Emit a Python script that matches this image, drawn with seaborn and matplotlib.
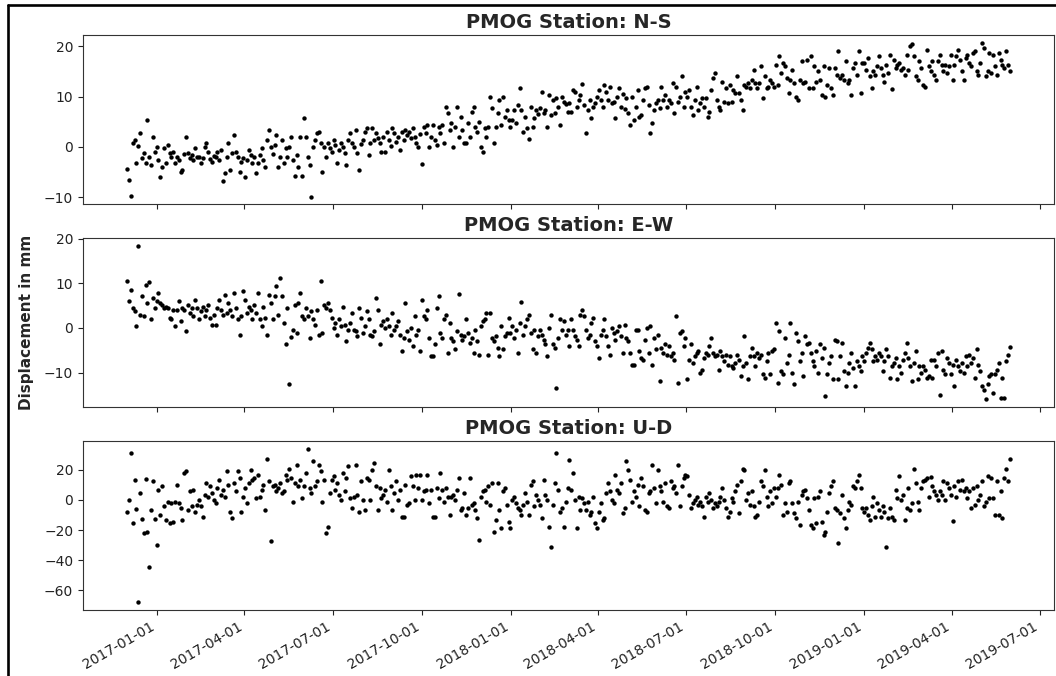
import numpy as np
import pandas as pd
import matplotlib
matplotlib.use("Agg")
import matplotlib.pyplot as plt
import matplotlib.dates as mdates
from matplotlib.lines import Line2D
import seaborn as sns

sns.set_style("ticks")
plt.rcParams["font.family"] = "DejaVu Sans"
plt.rcParams["axes.edgecolor"] = "#333333"

station = "PMOG"
start_date = "2016-12-01"
end_date = "2019-05-31"
components = ["N-S", "E-W", "U-D"]

# daily-ish displacement samples (mm), one row per month, Dec 2016 .. May 2019
ns_mm = [
    -4.5, -6.7, -9.8, 0.8, 1.3, -3.3, 0.2, 2.7, -2.3, -1.3, -3.3, 5.3, -2.0, -3.7, 1.9, -1.0,
    0.0, -2.7, -6.0, -4.0, -0.3, -3.3, 0.3, -1.3, -2.0, -1.0, -3.3, -2.0, -2.7, -5.0, -4.7, -1.5,
    2.0, -1.3, -2.3, -1.7, -2.7, -0.3, -2.0, -2.0, -3.3, -2.3, 0.0, 0.7, -1.0, -2.5, -3.0, -1.8,
    -2.0, -1.0, -2.7, -0.7, -6.9, -5.3, -2.0, 0.7, -4.7, -1.3, 2.3, -1.0, -2.0, -5.0, -3.0, -2.2,
    -6.0, -2.7, -0.7, -1.7, -3.3, -2.0, -5.3, -3.3, -1.7, -0.3, -2.7, -4.0, 1.3, 3.3, 0.0, -1.5,
    0.3, 2.3, -4.0, -2.0, 1.3, -3.3, -0.3, -2.0, 0.0, 2.0, -2.7, -5.8, -1.7, -4.0, 2.0, -5.9,
    5.7, 2.0, -2.0, -3.7, -9.9, 0.0, 1.3, 2.7, 3.0, 0.7, -5.0, 0.0, -2.0, 0.7, -0.3, -1.0,
    1.3, 0.3, -3.3, -0.7, 0.7, 0.0, -1.3, -3.7, 1.3, 2.7, 0.7, 0.0, 3.3, -1.3, -4.7, 0.5,
    1.3, 3.0, 3.7, -1.7, 0.7, 3.7, 1.3, 2.7, 1.7, 0.7, -1.0, 2.0, -1.0, 3.0, 1.3, 0.2,
    3.7, 2.7, 1.0, 2.0, -0.7, 3.0, 1.3, 3.3, 2.3, 3.0, 1.7, 3.7, 2.0, 0.7, 0.0, 2.5,
    -3.5, 4.0, 2.7, 4.3, 0.0, 2.0, 4.3, 1.3, 0.3, 4.0, 2.7, 4.3, 0.7, 8.0, 6.7, 3.3,
    4.7, 0.0, 4.0, 7.9, 2.0, 6.0, 3.3, 0.7, 0.7, 4.7, 2.0, 7.0, 8.0, 4.0, 3.0, 5.0,
    0.0, -1.0, 3.7, 2.0, 4.0, 10.0, 7.7, 0.7, 4.0, 6.7, 9.3, 4.3, 10.0, 6.0, 7.3, 5.3,
    4.0, 5.3, 7.3, 4.7, 8.3, 11.8, 7.3, 3.0, 6.0, 3.7, 1.5, 8.0, 4.0, 5.7, 7.3, 6.5,
    7.7, 11.0, 6.7, 7.3, 3.9, 10.3, 6.3, 9.3, 6.7, 9.7, 8.0, 4.3, 10.0, 9.0, 8.5, 7.0,
    8.7, 7.0, 11.3, 11.0, 8.0, 9.3, 10.3, 12.5, 8.3, 2.7, 7.3, 9.3, 5.7, 8.0, 8.7, 10.0,
    11.3, 9.3, 8.0, 12.3, 11.0, 9.3, 12.0, 8.7, 9.0, 5.7, 10.0, 11.7, 8.0, 10.5, 7.5, 9.8,
    6.7, 4.3, 10.0, 5.3, 8.0, 11.3, 6.0, 6.3, 9.3, 11.7, 12.0, 8.3, 2.7, 4.7, 7.3, 8.8,
    9.3, 7.7, 12.0, 9.3, 10.3, 8.0, 9.3, 8.7, 12.7, 6.7, 12.0, 9.0, 10.0, 14.0, 8.0, 11.0,
    10.0, 11.3, 8.0, 6.3, 9.3, 12.0, 7.3, 8.7, 9.7, 8.0, 9.7, 6.0, 7.0, 11.3, 13.7, 14.7,
    9.3, 8.0, 7.3, 13.0, 9.0, 11.7, 8.7, 12.3, 9.0, 11.3, 10.7, 14.0, 10.7, 9.3, 7.3, 12.3,
    12.0, 12.7, 11.7, 13.3, 15.3, 12.7, 11.7, 12.7, 16.0, 9.7, 14.0, 11.7, 12.0, 13.3, 12.7, 12.0,
    16.3, 12.3, 18.0, 14.7, 16.7, 16.0, 13.7, 10.7, 13.3, 15.3, 12.7, 10.0, 9.3, 13.3, 17.0, 12.7,
    13.0, 17.3, 11.7, 18.0, 11.7, 16.0, 13.0, 15.0, 13.3, 10.3, 16.0, 10.0, 12.3, 15.7, 11.7, 10.3,
    15.7, 14.3, 19.0, 13.7, 14.3, 13.3, 17.0, 12.7, 13.3, 10.3, 15.7, 16.7, 14.3, 19.0, 10.7, 16.7,
    16.7, 15.3, 17.7, 14.0, 11.7, 15.0, 14.3, 16.0, 18.0, 15.7, 14.3, 13.0, 16.3, 14.7, 18.3, 11.5,
    17.3, 15.7, 16.3, 16.7, 15.3, 15.7, 14.3, 18.3, 15.3, 20.0, 20.5, 18.0, 14.0, 13.3, 17.0, 15.7,
    12.3, 12.0, 19.3, 16.0, 15.0, 17.0, 14.3, 13.3, 17.0, 18.3, 16.3, 15.0, 16.3, 14.7, 16.0, 18.3,
    13.3, 16.3, 18.0, 19.3, 17.3, 15.0, 13.3, 17.7, 18.3, 16.7, 16.0, 18.7, 19.0, 15.0, 14.3, 16.7,
    20.7, 19.7, 14.0, 15.0, 18.7, 14.7, 18.3, 16.0, 14.3, 18.7, 17.3, 16.3, 15.7, 19.0, 16.3, 15.0,
]

ew_mm = [
    10.6, 6.0, 8.6, 4.5, 3.7, 0.5, 18.4, 3.0, 7.1, 2.6, 9.7, 5.6, 10.2, 1.9, 6.8, 4.5,
    6.0, 7.8, 5.6, 5.2, 4.5, 4.8, 4.5, 2.2, 1.9, 4.1, 0.5, 4.1, 6.0, 1.5, 4.5, 4.1,
    -0.7, 5.2, 3.3, 4.5, 2.6, 6.3, 4.5, 1.9, 3.7, 4.8, 2.6, 4.1, 5.2, 2.2, 0.7, 3.0,
    0.7, 4.5, 6.3, 4.1, 3.0, 7.4, 3.3, 5.6, 4.1, 2.6, 7.8, 4.5, 1.9, -1.5, 2.6, 8.2,
    6.3, 3.3, 4.8, 4.1, 1.9, 5.2, 3.3, 7.8, 1.9, 0.4, 4.8, 2.2, -1.5, 7.4, 5.6, 1.9,
    7.1, 9.3, 3.0, 11.2, 7.1, 1.1, -3.5, 4.5, -12.5, -2.0, -0.4, 5.2, -1.1, 5.6, 7.8, 2.6,
    1.9, 4.5, 2.6, -2.2, 3.7, 1.9, 0.7, 4.1, -1.5, 10.4, -1.1, 5.2, 4.5, 5.6, 4.1, 2.2,
    0.0, 1.1, -1.5, 1.9, 0.4, 4.8, 0.7, -3.0, -0.4, 1.1, 3.3, -0.4, -0.7, -1.9, 4.5, 2.2,
    -1.1, 0.4, 3.7, 1.9, -1.5, -1.9, -0.7, 6.7, 4.1, -3.7, 0.7, 1.5, 0.0, 1.9, 0.4, -1.5,
    3.3, -0.4, 0.4, 1.5, -1.5, -5.2, -2.2, 5.6, -0.7, -2.6, 0.0, -4.1, 2.6, -1.5, -0.4, -5.2,
    6.3, 2.6, 1.9, 4.1, -2.2, -6.3, -6.3, -3.7, 4.5, 7.1, -1.1, -2.2, 1.9, 3.0, -5.6, 1.1,
    -2.2, -3.0, -4.8, -0.7, 7.7, -1.5, -2.6, -1.9, 2.0, -1.1, -3.3, -2.2, -5.6, -0.4, -3.0, -6.0,
    0.4, 1.5, 1.9, 3.3, -6.0, 3.3, -2.2, -3.0, -1.9, -4.5, -6.3, 0.4, -4.8, -1.9, -1.1, 2.2,
    -1.1, 0.4, -2.2, -0.4, -5.6, 1.1, 5.7, -1.5, 0.4, 1.9, 3.0, -1.1, -4.8, -0.4, -5.6, -1.9,
    -0.4, -1.5, -2.6, -3.7, -6.3, 0.0, 3.0, -3.7, -4.5, -13.4, -2.2, 1.9, -0.4, 1.5, -1.5, -0.4,
    -4.1, 1.9, -0.4, -1.9, -2.6, -4.1, 3.0, 4.1, 2.6, -0.4, -2.2, -1.5, 1.1, 2.2, -3.0, -4.1,
    -6.7, -1.5, -0.4, 1.9, -1.9, -4.1, -6.0, 0.0, -1.1, -2.6, -0.7, 0.4, -1.9, -5.6, 0.7, -2.2,
    -3.0, -5.6, -8.2, -8.2, -0.4, -0.4, -5.2, -6.7, -7.1, -2.6, 0.0, -5.6, 0.4, -8.2, -2.2, -4.8,
    -1.5, -11.9, -4.5, -5.6, -3.7, -6.0, -4.1, -6.3, -5.6, -7.1, 2.6, -12.3, -1.1, -0.7, -4.1, -2.2,
    -11.5, -7.1, -3.7, -7.8, -6.3, -5.6, -5.2, -10.0, -9.3, -6.7, -5.6, -6.0, -4.1, -2.2, -5.6, -6.3,
    -6.0, -9.3, -5.2, -6.3, -7.4, -6.0, -8.2, -6.3, -8.6, -8.9, -7.8, -6.0, -7.1, -10.8, -8.6, -1.9,
    -7.8, -11.5, -6.3, -4.5, -6.3, -8.6, -5.6, -6.7, -6.0, -10.4, -11.2, -7.4, -5.6, -10.4, -5.2, -4.8,
    1.0, -12.3, -0.7, -9.7, -10.4, -2.2, -7.8, -6.0, 1.1, -10.0, -12.6, -1.1, -3.0, -7.4, -5.6, -10.8,
    -1.9, -3.7, -3.3, -5.6, -7.4, -8.6, -5.2, -10.0, -3.7, -6.7, -4.5, -15.3, -10.4, -7.8, -6.3, -11.5,
    -2.6, -3.0, -11.5, -6.3, -3.3, -9.7, -13.0, -10.0, -7.8, -5.6, -8.9, -13.0, -7.4, -8.6, -9.7, -6.3,
    -7.4, -5.6, -4.5, -3.3, -4.8, -7.4, -6.3, -7.1, -5.6, -6.3, -9.7, -7.4, -4.8, -6.3, -11.2, -8.6,
    -7.8, -6.7, -11.5, -8.6, -10.0, -7.1, -5.6, -3.3, -6.7, -8.6, -11.9, -7.8, -5.2, -11.5, -8.6, -10.0,
    -8.6, -9.3, -11.2, -10.8, -7.1, -11.2, -7.1, -8.6, -5.6, -14.9, -5.2, -9.3, -10.4, -6.7, -7.8, -10.4,
    -8.2, -13.0, -7.1, -8.6, -9.7, -7.8, -10.0, -6.3, -8.6, -6.0, -7.8, -6.7, -11.2, -4.8, -8.2, -9.7,
    -13.0, -13.8, -16.0, -12.6, -10.8, -10.4, -14.5, -10.4, -9.3, -7.8, -15.6, -11.2, -15.6, -7.4, -6.0, -4.3,
]

ud_mm = [
    -7.8, -0.4, 31.1, -15.6, 12.9, -6.2, -68.0, 4.4, -12.9, -22.2, 13.8, -21.1, -44.4, -6.7, 12.2, -12.9,
    -30.0, 6.7, -10.0, 8.9, -4.4, -13.3, -1.1, -15.6, -2.2, -14.4, -1.1, 10.0, -2.2, -5.6, -13.3, 17.8,
    18.9, -6.7, 5.6, -4.4, 6.7, -7.8, -3.3, 0.0, -4.4, -11.1, 3.3, 11.1, 2.2, 8.9, 4.4, 0.0,
    -2.2, 7.8, 13.3, 3.3, 6.7, 2.2, 18.9, 10.0, -7.8, -12.2, 11.1, 5.6, 18.9, 14.4, -7.8, 2.2,
    7.8, -2.2, 11.1, 19.6, 13.3, 14.4, 1.1, 16.7, 2.2, 6.7, 10.0, -6.7, 27.1, 12.2, -27.1, 8.9,
    10.0, 5.6, 7.8, 11.1, 4.4, 5.6, 16.7, 13.3, 20.4, 14.4, -1.1, 11.1, 23.3, 8.9, 13.3, 1.1,
    8.9, 17.8, 34.0, 7.8, 4.4, 25.6, 8.9, 12.2, 23.3, 18.9, -1.1, 13.3, -22.2, -17.8, 4.4, 13.3,
    15.6, 6.7, 11.1, 3.3, 0.0, 17.8, 5.6, 14.4, 22.2, 1.1, -5.6, 2.2, 23.3, 3.3, -7.8, 12.2,
    0.0, -6.7, 14.4, 13.3, 0.0, 20.0, 24.4, 8.9, -6.7, 7.8, 1.1, 3.3, 6.7, -1.1, 20.0, 8.9,
    -6.7, 4.4, 12.2, 0.0, 6.7, -11.1, -11.1, 10.0, -3.3, -2.2, 15.6, 8.9, 0.0, 16.7, 7.8, 16.7,
    0.0, 5.6, 6.7, 16.7, -2.2, 6.7, -11.1, -11.1, 7.8, 1.1, 17.8, 6.7, -1.1, 7.8, 2.2, -10.0,
    2.2, 3.3, 0.0, 6.7, 14.4, -6.7, -5.6, 4.4, -10.0, -5.6, 14.4, -3.3, -2.2, -6.7, -12.2, -26.7,
    2.2, 5.6, 6.7, -1.1, 8.9, -3.3, 11.1, -21.1, -13.3, 11.1, -6.7, -18.9, 5.6, 7.8, -3.3, -14.4,
    -18.9, 0.0, 2.2, -2.2, -5.6, -6.7, -10.0, -3.3, 4.4, -1.1, -10.0, 10.0, 12.2, -4.4, 3.3, 0.0,
    -3.3, -12.2, 13.3, 3.3, 0.0, -17.8, -31.1, -3.3, 11.1, 31.1, 6.7, -7.8, -5.6, -17.8, -1.1, 7.8,
    26.7, 6.7, 17.8, 0.0, -18.9, 2.2, -6.7, 1.1, -2.2, -6.7, -1.1, -10.0, -7.8, 2.2, -15.6, -18.9,
    -7.8, -2.2, -13.3, -12.2, 4.4, 11.1, 5.6, 0.0, -2.2, 16.7, 6.7, 4.4, 11.1, -8.9, -5.6, 25.6,
    20.0, 13.3, -1.1, 5.6, 2.2, 10.0, -4.4, 14.4, 8.9, -6.7, -7.8, 4.4, 5.6, 23.3, 7.8, -2.2,
    20.0, 8.9, 5.6, -1.1, 11.1, -4.4, -5.6, 12.2, 7.8, 8.9, 4.4, 23.3, -4.4, 8.9, 14.4, 16.7,
    15.6, 3.3, -5.6, -2.2, 0.0, 2.2, -3.3, -1.1, -4.4, -11.1, 2.2, -1.1, 4.4, 0.0, -5.6, -2.2,
    -4.4, -1.1, 2.2, 7.8, 0.0, -5.6, -11.1, -7.8, 1.1, -1.1, 5.6, 10.0, -8.9, 12.2, 20.4, 20.0,
    0.0, 4.4, -3.3, 5.6, -4.4, -11.1, -10.0, -1.1, 12.2, 8.9, 19.6, 2.2, -4.4, 5.6, -2.2, 7.8,
    2.2, 7.8, 16.7, 10.0, -10.0, -2.2, -7.8, 11.1, 12.2, -2.2, -8.9, -12.2, -1.1, -16.7, 3.3, 5.6,
    6.7, 1.1, -6.7, -16.7, -18.9, 1.1, -15.6, 2.2, 5.6, -14.4, -23.3, -21.1, -7.8, 4.4, 8.9, 12.2,
    -5.6, -6.7, -28.4, -8.9, 3.3, -12.2, -18.9, -6.7, -1.1, -3.3, 8.9, 7.8, 12.2, 16.7, 7.8, -5.6,
    -7.8, -5.6, -10.0, -13.3, -4.4, 2.2, -11.1, -2.2, -6.7, -11.1, -4.4, -7.8, -31.1, -12.2, -5.6, -11.1,
    -13.3, 6.7, 1.1, 15.6, 0.0, 3.3, -13.3, -5.6, 7.8, -6.7, -2.2, 20.4, 11.1, -1.1, -6.7, 7.8,
    12.2, 13.3, 14.4, 2.2, 15.1, 8.9, 5.6, 3.3, 0.0, 5.6, 3.3, 12.2, 0.0, 11.1, 7.8, 3.3,
    -14.0, 8.9, 2.2, 12.2, 6.7, 13.3, 5.6, 7.8, 1.1, 5.6, -5.6, 7.8, -3.3, 8.9, 0.0, 3.3,
    12.2, -4.4, -1.1, 15.6, 1.1, 14.4, 1.1, -10.0, 12.2, -10.0, 5.6, -12.2, 14.4, 20.4, 12.2, 27.1,
]

yticks = [[-10, 0, 10, 20], [-10, 0, 10, 20], [-60, -40, -20, 0, 20]]

dates = pd.date_range(start_date, end_date, periods=len(ns_mm))
df = pd.DataFrame({"date": dates, "N-S": ns_mm, "E-W": ew_mm, "U-D": ud_mm})

fig, axes = plt.subplots(3, 1, figsize=(10.56, 6.76), dpi=100, sharex=True)
fig.subplots_adjust(left=0.0786, right=0.998, top=0.948, bottom=0.0976, hspace=0.2)

for i, comp in enumerate(components):
    ax = axes[i]
    sns.scatterplot(data=df, x="date", y=comp, ax=ax, color="black", s=10, linewidth=0)
    ax.set_title("{} Station: {}".format(station, comp), fontsize=14, fontweight="bold", pad=5)
    ax.set_xlabel("")
    ax.set_ylabel("")
    ax.set_yticks(yticks[i])
    ax.tick_params(labelsize=10, colors="#222222")

axes[1].set_ylabel("Displacement in mm", fontsize=11, fontweight="bold")
axes[1].yaxis.set_label_coords(-0.05, 0.5)

axes[2].xaxis.set_major_locator(mdates.MonthLocator(bymonth=[1, 4, 7, 10]))
axes[2].xaxis.set_major_formatter(mdates.DateFormatter("%Y-%m-%d"))
for lab in axes[2].get_xticklabels():
    lab.set_rotation(30)
    lab.set_ha("right")

# black frame around the screenshot
fig.add_artist(Line2D([7.5 / 1056, 7.5 / 1056], [0, 1 - 4.5 / 676], color="black", lw=1.9,
                      transform=fig.transFigure))
fig.add_artist(Line2D([7.5 / 1056, 1], [1 - 4.5 / 676, 1 - 4.5 / 676], color="black", lw=1.9,
                      transform=fig.transFigure))

fig.savefig("out.png", dpi=100)
